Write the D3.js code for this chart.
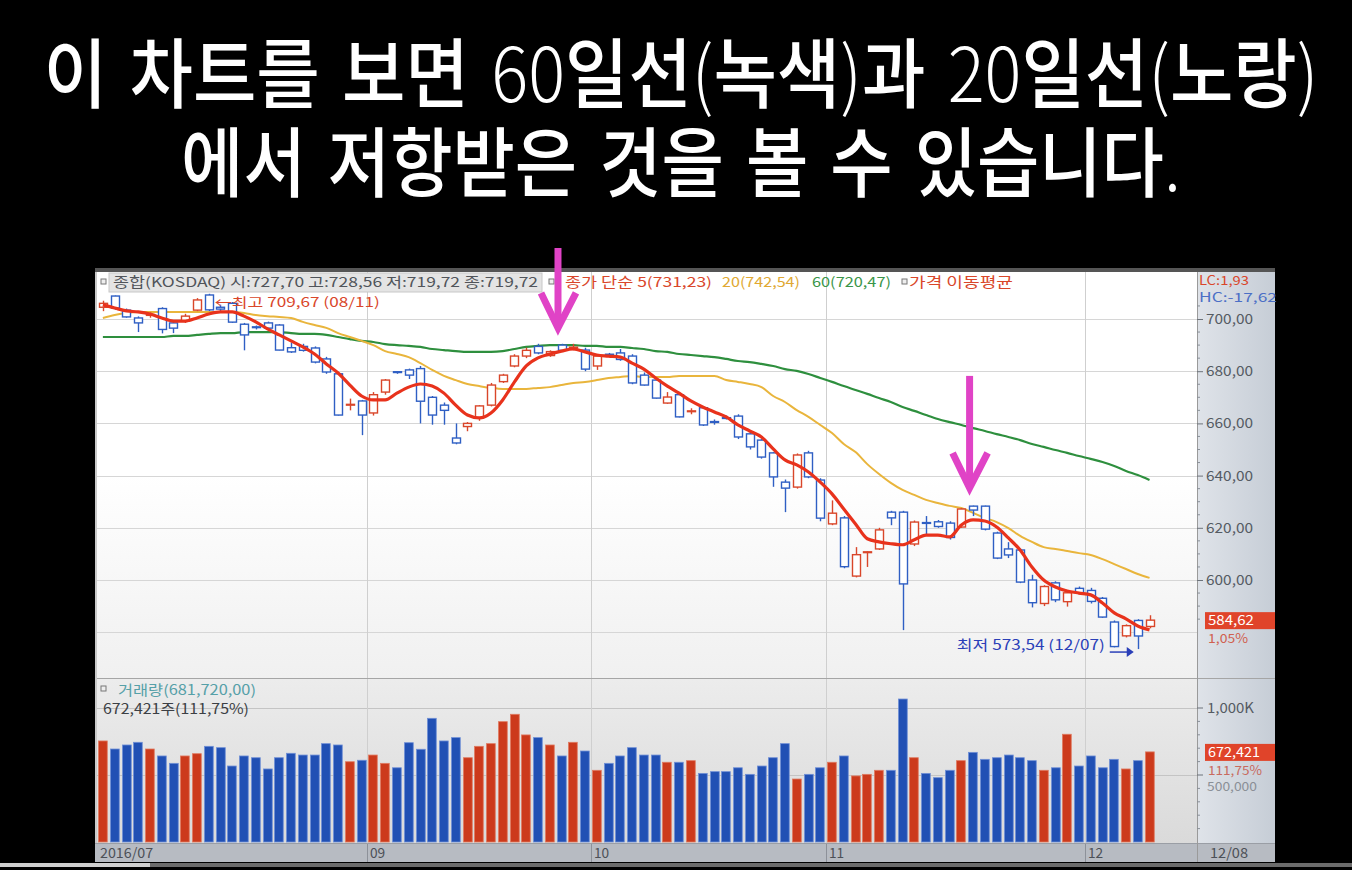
<!DOCTYPE html>
<html>
<head>
<meta charset="utf-8">
<script src="https://cdn.jsdelivr.net/npm/d3@7"></script>
<style>
html, body { margin: 0; padding: 0; background: #000; }
svg { display: block; }
text { font-family: "Noto Sans CJK KR", "Noto Sans", sans-serif; }
</style>
</head>
<body>
<svg id="chart" width="1352" height="870"></svg>
<script>
// trading days, 2016/07/29 - 2016/12/08
const dates = [
  "07/29",
  "08/01","08/02","08/03","08/04","08/05","08/08","08/09","08/10","08/11","08/12",
  "08/16","08/17","08/18","08/19","08/22","08/23","08/24","08/25","08/26","08/29","08/30","08/31",
  "09/01","09/02","09/05","09/06","09/07","09/08","09/09","09/12","09/13","09/19",
  "09/20","09/21","09/22","09/23","09/26","09/27","09/28","09/29","09/30",
  "10/04","10/05","10/06","10/07","10/10","10/11","10/12","10/13","10/14","10/17",
  "10/18","10/19","10/20","10/21","10/24","10/25","10/26","10/27","10/28","10/31",
  "11/01","11/02","11/03","11/04","11/07","11/08","11/09","11/10","11/11","11/14",
  "11/15","11/16","11/17","11/18","11/21","11/22","11/23","11/24","11/25","11/28","11/29","11/30",
  "12/01","12/02","12/05","12/06","12/07","12/08"
];

const open = [
  704.5,708.8,703.4,700.4,701.5,704,698.5,699.2,703.4,709.2,
  704.5,706,698,697,698.5,697.7,689,689.5,688.9,684.7,
  679,667,668.6,664,672,679.8,680.5,681,670,667,
  654.4,658.8,662,667,676,682,685.8,689.5,686,690,
  689,688.1,682,686.5,687,685.8,678.5,676.6,667.8,671,
  664.5,666,660.7,662.2,662.8,656,653.6,648.7,637.5,635.6,
  648.7,638.3,621.5,623.8,601.5,610.5,611.9,626,626,613.8,
  622,622.3,621.8,620.3,628.3,628.3,618,611.9,611.5,600,
  591,598.9,591.7,596.8,596,593,583.9,578.6,584.5,582.2
];
const high = [
  707,709,704,701,702.5,704.5,699.5,702,708,709.67,
  705.5,706.5,698.5,697.5,699,698,691,690.5,689.5,685.5,
  679.5,669.5,669,672,677,680,681,682,670.5,668,
  660,660.5,667,675.5,679,686.5,689,690.5,688,690.5,
  690.5,689,686.5,687,688.5,686.5,679.5,677,672,671.5,
  665.8,666.5,661.5,663,663.5,656.5,654,649,638.5,648.5,
  649.5,639,630.5,624.5,612.6,611,620,626.5,626.5,622.8,
  624.5,623,622.5,627.5,628.5,628.5,618.5,614.5,612,602,
  598,599.5,595.5,597.5,597,593.5,584.5,583,585,586.5
];
const low = [
  703,703.5,700.5,695,700.5,694.5,694.6,698.5,703,703,
  702.5,698.5,688,696,696,688,687,687.5,683,679,
  663,665,655.5,663,671,679,677,660,659.5,659.5,
  652,657,661,666.5,675.5,681.5,685,686.5,685.5,687.5,
  688,680,680.5,685.5,684,675,674.5,669.5,667.5,662.3,
  663.5,659,659.5,661.5,654,650,646.5,635.7,626,635,
  639,622.5,621,604.5,601,605,611.5,621,580.8,613,
  617.5,620,615.5,620,624.5,619,608,608.4,598.8,589.5,
  590,591.5,589.8,594.5,591,585.5,574.2,578,573.54,581.5
];
const close = [
  706,704.2,700.8,698.5,701.7,696,696.5,701.1,707.3,703.5,
  703.8,698.8,693.9,696.8,696.5,688.1,687.4,688,683.5,679.7,
  663.2,667.3,663.2,671,676.6,679.5,678.5,668.5,663.2,665,
  652.5,660,666.7,674.7,678.5,685.8,688,687,687.5,688,
  689.2,680.8,685.8,686,684.5,675.5,674.7,669.7,670.1,662.5,
  664.8,659.4,660.5,662,654.8,651,647.1,639.5,635.2,647.9,
  639.5,623.7,625.6,605.1,609.7,610.8,619.2,623.8,598.5,622.2,
  621.7,620.5,616.3,627.2,626.8,619.5,608.4,609.6,599.2,591.3,
  597.5,592.4,595.1,595,591.8,585.8,574.5,582.5,578.55,584.62
];

// moving averages as drawn (5 / 20 / 60 day)
const ma5 = [
  705.4,704.2,703.1,702.7,701.9,700.4,699.2,699.2,700.4,701.9,
  702.7,702.7,701.1,698.9,696.2,693.9,691.6,689.3,686.6,682.8,
  679.3,674.7,670.5,669.0,669.0,671.6,673.9,675.1,674.3,671.6,
  667.0,663.2,662.1,664.0,669.0,675.9,682.0,685.1,686.6,687.7,
  688.5,687.4,686.2,685.8,685.4,683.1,680.8,677.4,674.3,671.6,
  668.6,666.3,664.4,662.5,659.4,657.1,654.8,650.2,646.0,644.1,
  641.4,637.5,633.0,627.2,621.5,615.8,614.6,613.9,613.5,615.4,
  617.2,617.2,616.5,621.1,623.0,622.6,620.3,616.1,611.5,605.0,
  600.0,597.3,595.8,595.0,594.3,591.2,587.4,585.1,582.4,580.9
];
const ma20 = [
  700.4,701.5,702.3,702.7,702.7,702.7,702.7,702.7,702.7,702.7,
  702.7,702.7,702.3,701.5,701.1,700.8,700.4,698.9,697.7,696.6,
  694.6,693.1,691.6,690.0,687.7,686.6,685.4,683.1,680.5,678.2,
  676.6,675.1,674.3,673.6,673.2,673.2,673.2,673.6,673.9,674.7,
  675.5,675.9,676.6,677.4,677.8,678.2,677.8,677.8,677.8,678.2,
  678.2,678.2,678.2,676.6,675.9,675.1,673.9,670.5,668.2,665.1,
  662.5,659.4,656.3,652.1,649.0,644.4,640.6,637.2,634.5,632.6,
  630.7,629.5,628.4,627.6,625.7,623.8,622.2,619.9,616.9,614.6,
  612.6,611.9,611.1,610.3,609.6,608.0,606.1,604.2,602.3,600.8
];
const ma60 = [
  693.1,693.1,693.1,693.1,693.1,693.1,693.5,693.5,693.9,694.3,
  694.6,694.6,695.0,695.0,695.0,695.0,694.6,694.3,694.3,693.9,
  693.1,692.3,691.6,691.2,690.4,690.0,689.7,689.3,688.5,688.1,
  687.7,687.4,687.4,687.4,687.7,688.5,689.3,689.7,690.0,690.0,
  690.0,689.7,689.7,689.3,689.3,688.9,688.5,687.7,687.4,686.6,
  686.2,685.8,685.4,684.7,683.9,683.5,682.8,682.0,680.8,680.1,
  678.9,677.4,675.9,674.3,672.8,671.3,669.7,668.2,666.3,664.8,
  663.2,661.7,660.5,659.4,658.2,657.1,655.9,654.8,653.6,652.1,
  651.0,649.8,648.7,647.5,646.4,645.2,643.7,641.8,640.2,638.3
];

// volume, thousands of shares
const volumeK = [
  754,694,724,744,694,642,587,642,659,714,
  704,567,642,629,545,629,662,649,649,734,
  724,599,610,649,587,554,741,692,923,754,
  779,629,714,734,898,953,799,779,724,642,
  744,679,535,587,642,704,649,649,595,595,
  607,512,525,525,554,505,567,629,734,470,
  505,554,595,642,493,505,535,535,1067,629,
  512,480,535,607,669,617,629,649,629,607,
  535,554,804,567,642,554,617,545,607,672.421
];

const monthStarts = ["07/29", "09/01", "10/04", "11/01", "12/01"];
const monthLabels = ["2016/07", "09", "10", "11", "12"];
const priceTicks = [600, 620, 640, 660, 680, 700];
const priceGrid = [580, 600, 620, 640, 660, 680, 700];
const volumeGrid = [500, 1000];

// resistance arrows: bar position, start price, tip price
const arrows = [
  {at: 39.2, from: 727.2, to: 695.8},
  {at: 74.2, from: 678.2, to: 634.5}
];

const titleLines = [
  "이 차트를 보면 60일선(녹색)과 20일선(노랑)",
  "에서 저항받은 것을 볼 수 있습니다."
];

const RED = '#d9462a', BLUE = '#2f5fc4';

const svg = d3.select('#chart');
svg.append('rect').attr('width', 1352).attr('height', 870).attr('fill', '#000');

// title: hangul in medium weight, digits and brackets thin
const titleSpec = [{y: 102, w: 1275}, {y: 191, w: 1000}];
titleLines.forEach((t, i) => {
  const g = svg.append('g');
  const txt = g.append('text')
      .attr('text-anchor', 'middle')
      .attr('font-size', 76)
      .attr('fill', '#fff')
      .attr('word-spacing', 8);
  t.match(/[\uAC00-\uD7A3]+|[^\uAC00-\uD7A3]+/g).forEach(run => {
    txt.append('tspan')
        .attr('font-weight', /[\uAC00-\uD7A3]/.test(run) ? 500 : 300)
        .text(run);
  });
  const w = txt.node().getComputedTextLength();
  g.attr('transform', `translate(681,${titleSpec[i].y}) scale(${titleSpec[i].w / w},1)`);
});

// panels
const L = 97, R = 1197, T = 272, PB = 678, VB = 843;
const defs = svg.append('defs');
const grad = (id, stops, vertical = true) => {
  const lg = defs.append('linearGradient').attr('id', id)
      .attr('x1', 0).attr('y1', 0).attr('x2', vertical ? 0 : 1).attr('y2', vertical ? 1 : 0);
  stops.forEach((c, i) => lg.append('stop').attr('offset', i / (stops.length - 1)).attr('stop-color', c));
};
grad('gPrice', ['#ffffff', '#ffffff', '#f0f0f0']);
grad('gVol', ['#ececec', '#dadada']);
grad('gAxis', ['#dfe3e9', '#c6cdd6'], false);
defs.append('clipPath').attr('id', 'clipPrice').append('rect')
    .attr('x', L).attr('y', T).attr('width', R - L).attr('height', PB - T);

svg.append('rect').attr('x', 95).attr('y', 268).attr('width', 1180).attr('height', 594).attr('fill', '#c9c9c9');
svg.append('rect').attr('x', 95).attr('y', 268).attr('width', 1180).attr('height', 4).attr('fill', '#555');
svg.append('rect').attr('x', L).attr('y', T).attr('width', R - L).attr('height', PB - T).attr('fill', 'url(#gPrice)');
svg.append('rect').attr('x', L).attr('y', PB + 1).attr('width', R - L).attr('height', VB - PB - 1).attr('fill', 'url(#gVol)');
svg.append('rect').attr('x', R).attr('y', T).attr('width', 1275 - R).attr('height', VB - T).attr('fill', 'url(#gAxis)');
svg.append('rect').attr('x', 95).attr('y', VB).attr('width', 1180).attr('height', 19).attr('fill', '#b7bbc2');
svg.append('rect').attr('x', 0).attr('y', 863).attr('width', 1352).attr('height', 4).attr('fill', '#6b6b6b');
svg.append('rect').attr('x', 0).attr('y', 863).attr('width', 150).attr('height', 4).attr('fill', '#cfcfcf');

// scales
const x = d3.scaleBand().domain(dates).range([L, L + dates.length * 11.76]);
const cx = d => x(d) + x.bandwidth() / 2;
const pos = d3.scaleLinear().domain([0, dates.length]).range(x.range());
const y = d3.scaleLinear().domain([600, 700]).range([580, 319]);
const yv = d3.scaleLinear().domain([0, 1000]).range([VB - 1, 708]);

// grid
svg.append('g').selectAll('line').data(priceGrid).enter().append('line')
    .attr('x1', L).attr('x2', R).attr('y1', d => Math.round(y(d)) + 0.5).attr('y2', d => Math.round(y(d)) + 0.5)
    .attr('stroke', '#d6d6d6');
svg.append('g').selectAll('line').data(volumeGrid).enter().append('line')
    .attr('x1', L).attr('x2', R).attr('y1', d => Math.round(yv(d)) + 0.5).attr('y2', d => Math.round(yv(d)) + 0.5)
    .attr('stroke', '#c4c4c4');
svg.append('g').selectAll('line').data(monthStarts.slice(1)).enter().append('line')
    .attr('x1', d => Math.round(x(d)) + 0.5).attr('x2', d => Math.round(x(d)) + 0.5)
    .attr('y1', T).attr('y2', 862).attr('stroke', '#cfcfcf');
svg.append('g').selectAll('line').data(monthStarts.slice(1)).enter().append('line')
    .attr('x1', d => Math.round(x(d)) + 0.5).attr('x2', d => Math.round(x(d)) + 0.5)
    .attr('y1', VB).attr('y2', 862).attr('stroke', '#8d9199');

// separators
svg.append('line').attr('x1', L).attr('x2', 1275).attr('y1', PB + 0.5).attr('y2', PB + 0.5).attr('stroke', '#a5a5a5');
svg.append('line').attr('x1', 95).attr('x2', 1275).attr('y1', VB + 0.5).attr('y2', VB + 0.5).attr('stroke', '#9a9ea5');
svg.append('line').attr('x1', R + 0.5).attr('x2', R + 0.5).attr('y1', T).attr('y2', 862).attr('stroke', '#9a9a9a');

// price panel
const gp = svg.append('g').attr('clip-path', 'url(#clipPrice)');
const line = d3.line().x((d, i) => cx(dates[i])).y(d => y(d)).curve(d3.curveMonotoneX);

gp.append('path').attr('d', line(ma60)).attr('fill', 'none').attr('stroke', '#2e8f3e').attr('stroke-width', 2.2);
gp.append('path').attr('d', line(ma20)).attr('fill', 'none').attr('stroke', '#e9b53c').attr('stroke-width', 2);

const bars = dates.map((d, i) => ({d, o: open[i], h: high[i], l: low[i], c: close[i], v: volumeK[i]}));
const col = b => b.c >= b.o ? RED : BLUE;

const candle = gp.selectAll('.candle').data(bars).enter().append('g').attr('class', 'candle');
candle.append('line')
    .attr('x1', b => Math.round(cx(b.d)) + 0.5).attr('x2', b => Math.round(cx(b.d)) + 0.5)
    .attr('y1', b => y(b.h)).attr('y2', b => y(b.l))
    .attr('stroke', col).attr('stroke-width', 1.4);
candle.append('rect')
    .attr('x', b => Math.round(cx(b.d)) - 3.5).attr('width', 8)
    .attr('y', b => y(Math.max(b.o, b.c)))
    .attr('height', b => Math.max(0.8, y(Math.min(b.o, b.c)) - y(Math.max(b.o, b.c))))
    .attr('fill', '#fff').attr('stroke', col).attr('stroke-width', 1.4);

gp.append('path').attr('d', line(ma5)).attr('fill', 'none').attr('stroke', '#e8321c').attr('stroke-width', 3.2)
    .attr('stroke-linejoin', 'round');

// high / low notes
const hi = bars[d3.maxIndex(bars, b => b.h)];
const lo = bars[d3.minIndex(bars, b => b.l)];
svg.append('text').attr('x', cx(hi.d) + 6).attr('y', y(hi.h) + 13)
    .attr('font-size', 13).attr('fill', RED).attr('textLength', 165).attr('lengthAdjust', 'spacingAndGlyphs')
    .text(`←최고 ${hi.h.toFixed(2).replace('.', ',')} (${hi.d})`);
svg.append('text').attr('x', cx(lo.d) - 33).attr('y', y(lo.l) + 1).attr('text-anchor', 'end')
    .attr('font-size', 14).attr('fill', '#2a3fb8').attr('textLength', 148).attr('lengthAdjust', 'spacingAndGlyphs')
    .text(`최저 ${lo.l.toFixed(2).replace('.', ',')} (${lo.d})`);
const ax = cx(lo.d), ay = y(lo.l) + 3;
svg.append('path').attr('d', `M${ax - 28},${ay}H${ax - 10}`).attr('stroke', '#2a3fb8').attr('stroke-width', 1.5);
svg.append('path').attr('d', `M${ax - 11},${ay - 5}L${ax - 4},${ay}L${ax - 11},${ay + 5}Z`).attr('fill', '#2a3fb8');

// volume
svg.append('g').selectAll('rect').data(bars).enter().append('rect')
    .attr('x', b => Math.round(x(b.d)) + 1.5).attr('width', x.bandwidth() - 3)
    .attr('y', b => yv(b.v)).attr('height', b => yv(0) - yv(b.v))
    .attr('fill', b => b.c >= b.o ? '#cc3a1c' : '#2150b4')
    .attr('stroke', b => b.c >= b.o ? '#e07a60' : '#6f8fd6').attr('stroke-width', 0.8);

// right axis
const fmt = v => v.toFixed(2).replace('.', ',');
const axisG = svg.append('g').attr('transform', `translate(${R},0)`)
    .call(d3.axisRight(y).tickValues(priceTicks).tickFormat(fmt).tickSize(6).tickPadding(3));
axisG.select('.domain').remove();
axisG.selectAll('line').attr('stroke', '#6d737b');
axisG.selectAll('text').attr('font-size', 14).attr('fill', '#555b63')
    .attr('font-family', '"Noto Sans CJK KR", sans-serif').attr('textLength', 47).attr('lengthAdjust', 'spacingAndGlyphs');
const minor = d3.range(585, 708, 5).filter(v => v % 20 !== 0);
svg.append('g').selectAll('line').data(minor).enter().append('line')
    .attr('x1', R).attr('x2', R + 3).attr('y1', d => y(d)).attr('y2', d => y(d)).attr('stroke', '#8a9098');
const vminor = d3.range(100, 1100, 100).filter(v => v % 500 !== 0);
svg.append('g').selectAll('line').data(vminor).enter().append('line')
    .attr('x1', R).attr('x2', R + 3).attr('y1', d => yv(d)).attr('y2', d => yv(d)).attr('stroke', '#8a9098');
svg.append('g').selectAll('line').data(volumeGrid).enter().append('line')
    .attr('x1', R).attr('x2', R + 6).attr('y1', d => yv(d)).attr('y2', d => yv(d)).attr('stroke', '#6d737b');

const axText = (t, xx, yy, fill, w, fs = 14) => svg.append('text').attr('x', xx).attr('y', yy)
    .attr('font-size', fs).attr('fill', fill).attr('textLength', w).attr('lengthAdjust', 'spacingAndGlyphs').text(t);

axText('1,000K', 1207, yv(1000) + 5, '#555b63', 47);
axText('500,000', 1207, yv(500) + 16, '#8a8f96', 50, 12);

const last = bars[bars.length - 1];
const prev = bars[bars.length - 2];
svg.append('rect').attr('x', 1205).attr('y', y(last.c) - 8).attr('width', 70).attr('height', 17).attr('fill', '#e0442a');
axText(fmt(last.c), 1208, y(last.c) + 5, '#fff', 46, 13);
axText(((last.c / prev.c - 1) * 100).toFixed(2).replace('.', ',') + '%', 1208, y(last.c) + 23, '#d0604e', 40, 12.5);

svg.append('rect').attr('x', 1205).attr('y', yv(last.v) - 8).attr('width', 70).attr('height', 17).attr('fill', '#e0442a');
axText(d3.format(',')(Math.round(last.v * 1000)), 1208, yv(last.v) + 5, '#fff', 52, 13);
axText('111,75%', 1208, yv(last.v) + 23, '#c86a5e', 54, 12.5);

axText('LC:1,93', 1199, 285, '#d9462a', 50, 12.5);
axText('HC:-17,62', 1199, 302, '#4b6fc6', 78, 12.5);

// date axis
svg.append('g').selectAll('text').data(monthStarts).enter().append('text')
    .attr('x', (d, i) => i === 0 ? 100 : Math.round(x(d)) + 3).attr('y', 858)
    .attr('font-size', 14).attr('fill', '#4c5057')
    .attr('textLength', (d, i) => monthLabels[i].length * 7.6).attr('lengthAdjust', 'spacingAndGlyphs')
    .text((d, i) => monthLabels[i]);
svg.append('text').attr('x', 1210).attr('y', 858).attr('font-size', 14).attr('fill', '#4c5057')
    .attr('textLength', 38).attr('lengthAdjust', 'spacingAndGlyphs').text(last.d);

// legends
const box = (bx, by) => svg.append('rect').attr('x', bx).attr('y', by).attr('width', 5).attr('height', 5)
    .attr('fill', '#eee').attr('stroke', '#777').attr('stroke-width', 1);
svg.append('rect').attr('x', 109).attr('y', 273).attr('width', 433).attr('height', 19)
    .attr('fill', '#e4e4e4').attr('stroke', '#c8c8c8');
box(101, 279);
axText('종합(KOSDAQ) 시:727,70 고:728,56 저:719,72 종:719,72', 113, 287, '#50545a', 425, 13.5);
box(549, 279);
axText('종가 단순 5(731,23)', 565, 287, RED, 147, 13.5);
axText('20(742,54)', 722, 287, '#e0a832', 78, 13.5);
axText('60(720,47)', 812, 287, '#3a9548', 79, 13.5);
box(902, 279);
axText('가격 이동평균', 909, 287, RED, 104, 13.5);

box(101, 686);
axText('거래량(681,720,00)', 118, 695, '#56a0a8', 138);
axText('672,421주(111,75%)', 103, 714, '#3c3f44', 146);

// resistance arrows
arrows.forEach(a => {
  const ax0 = pos(a.at), top = y(a.from), tip = y(a.to);
  svg.append('path').attr('d', `M${ax0},${top}V${tip - 4}`)
      .attr('stroke', '#e043c6').attr('stroke-width', 7).attr('fill', 'none');
  svg.append('path').attr('d', `M${ax0 - 17},${tip - 37}L${ax0},${tip - 2}L${ax0 + 18},${tip - 37}`)
      .attr('stroke', '#e043c6').attr('stroke-width', 7).attr('fill', 'none').attr('stroke-linejoin', 'miter');
});
</script>
</body>
</html>
